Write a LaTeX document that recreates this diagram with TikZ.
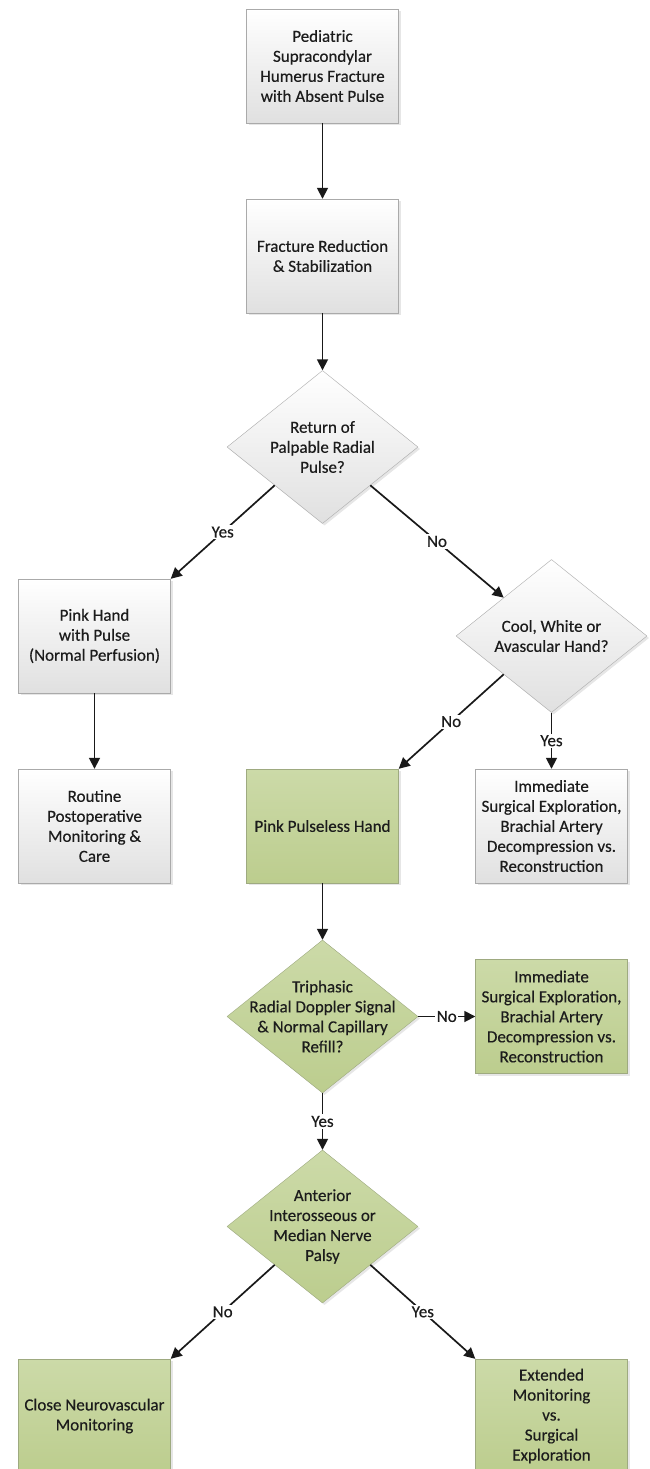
\documentclass[tikz,border=0pt]{standalone}
\usepackage{fontspec}
\setmainfont{Carlito}[FakeBold=0.4]
\usetikzlibrary{shapes.geometric,arrows.meta,shadows}
\definecolor{myText}{RGB}{28,28,28}
\definecolor{myBorder}{RGB}{170,170,170}
\definecolor{myLightGray}{RGB}{224,224,224}
\definecolor{myGreenTop}{RGB}{204,218,168}
\definecolor{myGreenBottom}{RGB}{188,205,142}
\definecolor{myGreenBorder}{RGB}{158,170,128}
\definecolor{myArrow}{RGB}{25,25,25}

\begin{document}
\begin{tikzpicture}[%
    x=1pt, y=-1pt,
    every node/.style={
        font=\fontsize{17}{20}\selectfont,
        text=myText,
    },
    box/.style={
        rectangle, draw=myBorder, top color=white, bottom color=myLightGray,
        minimum width=152pt, minimum height=114pt, align=center, inner sep=2pt,
        drop shadow={opacity=0.2, shadow xshift=2pt, shadow yshift=-2pt},
    },
    greenBox/.style={box, draw=myGreenBorder, top color=myGreenTop, bottom color=myGreenBottom},
    decision/.style={
        diamond, draw=myBorder, top color=white, bottom color=myLightGray,
        minimum width=191pt, minimum height=153pt, inner sep=0pt,
        drop shadow={opacity=0.2, shadow xshift=2pt, shadow yshift=-2pt},
    },
    greenDecision/.style={decision, draw=myGreenBorder, top color=myGreenTop, bottom color=myGreenBottom},
    diaText/.style={align=center, inner sep=0pt},
    arrow/.style={draw=myArrow, line width=1.7pt, -{Triangle[length=11pt,width=11pt]}},
    answer/.style={fill=white, inner sep=1.5pt},
]
\useasboundingbox (0,0) rectangle (649,1469);

% boxes and decisions, top part
\node[box] (fracture) at (322.5,66) {Pediatric\\Supracondylar\\Humerus Fracture\\with Absent Pulse};
\node[box] (reduction) at (322.5,256) {Fracture Reduction\\\& Stabilization};
\node[decision, label={[diaText]center:{Return of\\Palpable Radial\\Pulse?}}] (pulseQ) at (322.5,447) {};
\node[box] (pinkHand) at (94.5,636) {Pink Hand\\with Pulse\\(Normal Perfusion)};
\node[decision, label={[diaText]center:{Cool, White or\\Avascular Hand?}}] (coolQ) at (551.5,636) {};
\node[box] (routine) at (94.5,826) {Routine\\Postoperative\\Monitoring \&\\Care};
\node[greenBox] (pulseless) at (322.5,826) {Pink Pulseless Hand};
\node[box] (explore1) at (551.5,826) {Immediate\\Surgical Exploration,\\Brachial Artery\\Decompression vs.\\Reconstruction};

% green part
\node[greenDecision, label={[diaText]center:{Triphasic\\Radial Doppler Signal\\\& Normal Capillary\\Refill?}}] (dopplerQ) at (322.5,1016.5) {};
\node[greenBox] (explore2) at (551.5,1016.5) {Immediate\\Surgical Exploration,\\Brachial Artery\\Decompression vs.\\Reconstruction};
\node[greenDecision, label={[diaText]center:{Anterior\\Interosseous or\\Median Nerve\\Palsy}}] (nerveQ) at (322.5,1226.5) {};
\node[greenBox] (closeMon) at (94.5,1416) {Close Neurovascular\\Monitoring};
\node[greenBox] (extended) at (551.5,1416) {Extended\\Monitoring\\vs.\\Surgical\\Exploration};

% connectors
\draw[arrow] (fracture) -- (reduction);
\draw[arrow] (reduction) -- (pulseQ);
\draw[arrow] (pulseQ.south west) -- node[answer] {Yes} (pinkHand.north east);
\draw[arrow] (pulseQ.south east) -- node[answer] {No} (coolQ.north west);
\draw[arrow] (pinkHand) -- (routine);
\draw[arrow] (coolQ.south west) -- node[answer] {No} (pulseless.north east);
\draw[arrow] (coolQ) -- node[answer] {Yes} (explore1);
\draw[arrow] (pulseless) -- (dopplerQ);
\draw[arrow] (dopplerQ) -- node[answer] {No} (explore2);
\draw[arrow] (dopplerQ) -- node[answer] {Yes} (nerveQ);
\draw[arrow] (nerveQ.south west) -- node[answer] {No} (closeMon.north east);
\draw[arrow] (nerveQ.south east) -- node[answer] {Yes} (extended.north west);

\end{tikzpicture}
\end{document}
